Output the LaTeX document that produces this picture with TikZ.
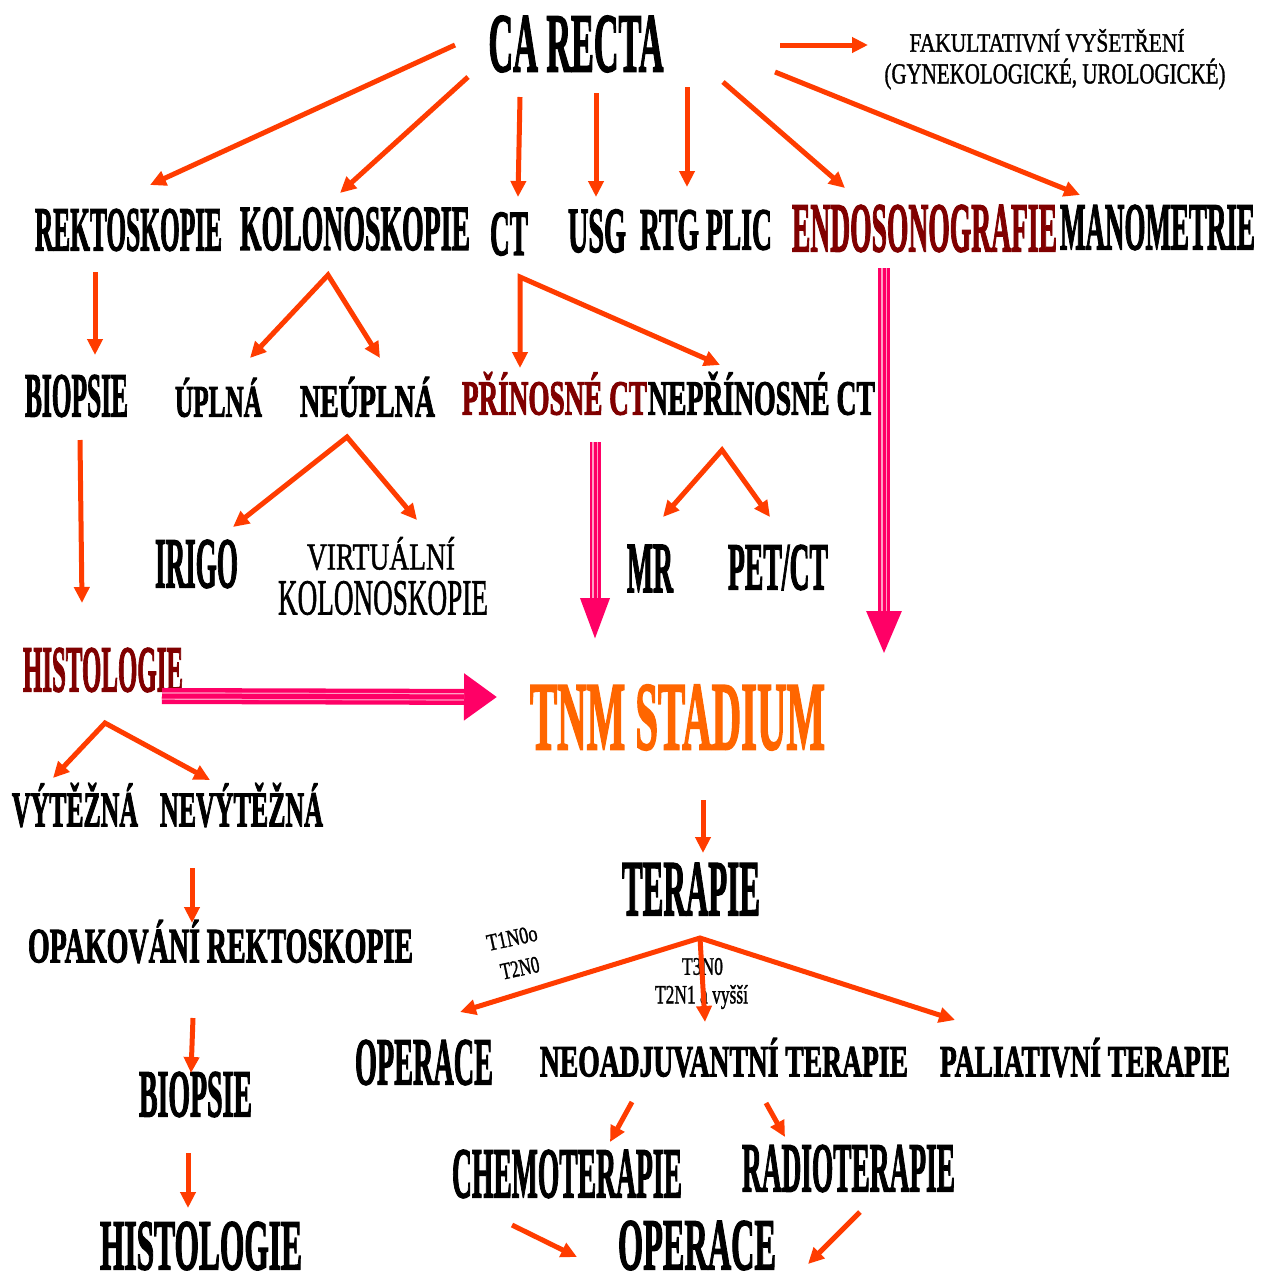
\documentclass[tikz,border=0pt]{standalone}
\usepackage{fontspec}
\setmainfont{Liberation Serif}[BoldFeatures={FakeBold=2.5}]
\newfontfamily\semifont{Liberation Serif}[FakeBold=1.5]
\usepackage{graphicx}
\usetikzlibrary{arrows.meta,calc}

% scale a label to a given width and total height (in pt)
\newcommand{\fitbox}[3]{\resizebox*{#1pt}{#2pt}{#3}}

\definecolor{arrc}{RGB}{255,60,0}
\definecolor{pinkc}{RGB}{255,0,102}
\definecolor{pinkl}{RGB}{255,160,195}
\definecolor{wine}{RGB}{128,0,0}
\definecolor{tnmc}{RGB}{255,102,0}

\begin{document}
\begin{tikzpicture}[x=1pt,y=-1pt,
  word/.style={inner sep=0pt, font=\bfseries},
  thin/.style={inner sep=0pt, font=\semifont},
  arr/.style={draw=arrc, line width=5pt, -{Triangle[length=16pt,width=15pt]}},
  fork/.style={draw=arrc, line width=5pt, line join=miter,
    {Triangle[length=16pt,width=15pt]}-{Triangle[length=16pt,width=15pt]}},
  stripes/.style={draw=pinkl, line width=1.2pt, double=pinkc, double distance=3pt}
]
\useasboundingbox (0,0) rectangle (1269,1278);
\fill[white] (0,0) rectangle (1269,1278);

% ---------- labels ----------
\node[word] (ca)    at (576,44)      {\fitbox{175}{56}{CA RECTA}};
\node[thin] (fak1)  at (1047,40.5)   {\fitbox{275}{23}{FAKULTATIVNÍ VYŠETŘENÍ}};
\node[thin] (fak2)  at (1055,74)     {\fitbox{341}{31}{(GYNEKOLOGICKÉ, UROLOGICKÉ)}};

\node[word] (rekt)  at (128.5,230)   {\fitbox{187}{42}{REKTOSKOPIE}};
\node[word] (kolo)  at (355,229)     {\fitbox{230}{43}{KOLONOSKOPIE}};
\node[word] (ct)    at (509,234)     {\fitbox{38}{43}{CT}};
\node[word] (usg)   at (597,231)     {\fitbox{58}{43}{USG}};
\node[word] (rtg)   at (706,230)     {\fitbox{132}{40}{RTG PLIC}};
\node[word, text=wine] (endo) at (924.5,228.5) {\fitbox{265}{47}{ENDOSONOGRAFIE}};
\node[word] (mano)  at (1157.5,227.5) {\fitbox{195}{45}{MANOMETRIE}};

\node[word] (biop1) at (76.5,396)    {\fitbox{103}{42}{BIOPSIE}};
\node[word] (upl)   at (218.5,397.5) {\fitbox{87}{39}{ÚPLNÁ}};
\node[word] (neupl) at (367.5,397)   {\fitbox{135}{40}{NEÚPLNÁ}};
\node[word, text=wine] (prin) at (554.5,393.5) {\fitbox{185}{43}{PŘÍNOSNÉ CT}};
\node[word] (neprin) at (761.5,393.5) {\fitbox{227}{43}{NEPŘÍNOSNÉ CT}};

\node[word] (irigo) at (196.5,564)   {\fitbox{83}{48}{IRIGO}};
\node[thin] (virt1) at (381,553.5)   {\fitbox{148}{33}{VIRTUÁLNÍ}};
\node[thin] (virt2) at (383,598)     {\fitbox{210}{34}{KOLONOSKOPIE}};
\node[word] (mr)    at (650,568.5)   {\fitbox{46}{47}{MR}};
\node[word] (pet)   at (778,567.5)   {\fitbox{100}{45}{PET/CT}};

\node[word, text=wine] (hist1) at (103,670) {\fitbox{160}{44}{HISTOLOGIE}};
\node[word, text=tnmc] (tnm)   at (677.5,717.5) {\fitbox{295}{65}{TNM STADIUM}};

\node[word] (vyt)   at (75,805)      {\fitbox{126}{44}{VÝTĚŽNÁ}};
\node[word] (nevyt) at (241.5,805)   {\fitbox{163}{44}{NEVÝTĚŽNÁ}};
\node[word] (opak)  at (220.5,941.5) {\fitbox{385}{43}{OPAKOVÁNÍ REKTOSKOPIE}};
\node[word] (biop2) at (195.5,1094.5) {\fitbox{113}{45}{BIOPSIE}};
\node[word] (hist2) at (201,1246)    {\fitbox{202}{48}{HISTOLOGIE}};

\node[word] (ter)   at (691,889)     {\fitbox{138}{52}{TERAPIE}};
\node[thin, rotate=12] (t1n0) at (512,938) {\fitbox{51}{16}{T1N0o}};
\node[thin, rotate=12] (t2n0) at (520,968) {\fitbox{39}{16}{T2N0}};
\node[thin] (t3n0)  at (702.5,966.5) {\fitbox{41}{17}{T3N0}};
\node[thin] (t2n1)  at (701.5,997)   {\fitbox{93}{24}{T2N1 a vyšší}};

\node[word] (oper1)  at (424,1062.5)  {\fitbox{138}{45}{OPERACE}};
\node[word] (neoadj) at (724,1057.5)  {\fitbox{368}{39}{NEOADJUVANTNÍ TERAPIE}};
\node[word] (pali)   at (1085,1057.5) {\fitbox{290}{39}{PALIATIVNÍ TERAPIE}};
\node[word] (chemo)  at (567,1174)    {\fitbox{230}{48}{CHEMOTERAPIE}};
\node[word] (radio)  at (848.5,1168.5) {\fitbox{213}{47}{RADIOTERAPIE}};
\node[word] (oper2)  at (697,1245.5)  {\fitbox{158}{49}{OPERACE}};

% ---------- connector end points ----------
\coordinate (ca-a) at (455,45);   \coordinate (rekt-in)  at (150,185);
\coordinate (ca-b) at (468,77);   \coordinate (kolo-in)  at (340,193);
\coordinate (ca-c) at (520,97);   \coordinate (ct-in)    at (518,197);
\coordinate (ca-d) at (596,93);   \coordinate (usg-in)   at (596,197);
\coordinate (ca-e) at (687,87);   \coordinate (rtg-in)   at (687,187);
\coordinate (ca-f) at (723,82);   \coordinate (endo-in)  at (845,188);
\coordinate (ca-g) at (775,72);   \coordinate (mano-in)  at (1080,195);
\coordinate (ca-h) at (780,45);   \coordinate (fak-in)   at (868,45);

\coordinate (rekt-out)  at (95,272);  \coordinate (biop1-in) at (95,355);
\coordinate (kolo-out)  at (328,275); \coordinate (upl-in)   at (250,358);
                                      \coordinate (neupl-in) at (380,358);
\coordinate (ct-out)    at (520,277); \coordinate (prin-in)  at (520,368);
                                      \coordinate (neprin-in) at (720,365);
\coordinate (neupl-out) at (347,437); \coordinate (irigo-in) at (233,527);
                                      \coordinate (virt-in)  at (417,520);
\coordinate (neprin-out) at (722,450); \coordinate (mr-in)   at (663,517);
                                      \coordinate (pet-in)   at (770,517);
\coordinate (biop1-out) at (80,440);  \coordinate (hist1-in) at (82,603);
\coordinate (hist1-out) at (105,723); \coordinate (vyt-in)   at (53,778);
                                      \coordinate (nevyt-in) at (210,780);
\coordinate (nevyt-out) at (192,868); \coordinate (opak-in)  at (192,923);
\coordinate (opak-out)  at (193,1018); \coordinate (biop2-in) at (191,1073);
\coordinate (biop2-out) at (188,1153); \coordinate (hist2-in) at (188,1208);
\coordinate (tnm-out)   at (703,800); \coordinate (ter-in)   at (703,853);
\coordinate (ter-out)   at (700,938); \coordinate (oper1-in) at (460,1012);
                                      \coordinate (neoadj-in) at (705,1022);
                                      \coordinate (pali-in)  at (955,1020);
\coordinate (neoadj-a)  at (632,1102); \coordinate (chemo-in) at (610,1142);
\coordinate (neoadj-b)  at (766,1103); \coordinate (radio-in) at (785,1137);
\coordinate (chemo-out) at (512,1225); \coordinate (oper2-l)  at (577,1257);
\coordinate (radio-out) at (860,1212); \coordinate (oper2-r)  at (808,1264);

\coordinate (prin-out)  at (595,442);  \coordinate (tnm-top)   at (595,642);
\coordinate (endo-out)  at (884,268);  \coordinate (tnm-right) at (884,655);
\coordinate (hist1-side) at (162,696); \coordinate (tnm-left)  at (497,697);

% ---------- orange connectors ----------
\foreach \a/\b in {ca-a/rekt-in, ca-b/kolo-in, ca-c/ct-in, ca-d/usg-in,
                   ca-e/rtg-in, ca-f/endo-in, ca-g/mano-in, ca-h/fak-in,
                   rekt-out/biop1-in, biop1-out/hist1-in,
                   nevyt-out/opak-in, opak-out/biop2-in, biop2-out/hist2-in,
                   tnm-out/ter-in, ter-out/neoadj-in,
                   neoadj-a/chemo-in, neoadj-b/radio-in,
                   chemo-out/oper2-l, radio-out/oper2-r}
  \draw[arr] (\a) -- (\b);

\draw[fork] (upl-in) -- (kolo-out) -- (neupl-in);
\draw[fork] (prin-in) -- (ct-out) -- (neprin-in);
\draw[fork] (irigo-in) -- (neupl-out) -- (virt-in);
\draw[fork] (mr-in) -- (neprin-out) -- (pet-in);
\draw[fork] (vyt-in) -- (hist1-out) -- (nevyt-in);
\draw[fork] (oper1-in) -- (ter-out) -- (pali-in);

% ---------- pink striped arrows into the staging ----------
\draw[pinkc, line width=11pt, -{Triangle[length=44pt,width=26pt]}] (prin-out) -- (tnm-top);
\draw[stripes, shorten >=44pt] (prin-out) -- (tnm-top);

\draw[pinkc, line width=12pt, -{Triangle[length=44pt,width=32pt]}] (endo-out) -- (tnm-right);
\draw[stripes, shorten >=44pt] (endo-out) -- (tnm-right);

\draw[pinkc, line width=16pt, -{Triangle[length=33pt,width=45pt]}] (hist1-side) -- (tnm-left);
\draw[stripes, double distance=5pt, shorten >=33pt] (hist1-side) -- (tnm-left);

\end{tikzpicture}
\end{document}
